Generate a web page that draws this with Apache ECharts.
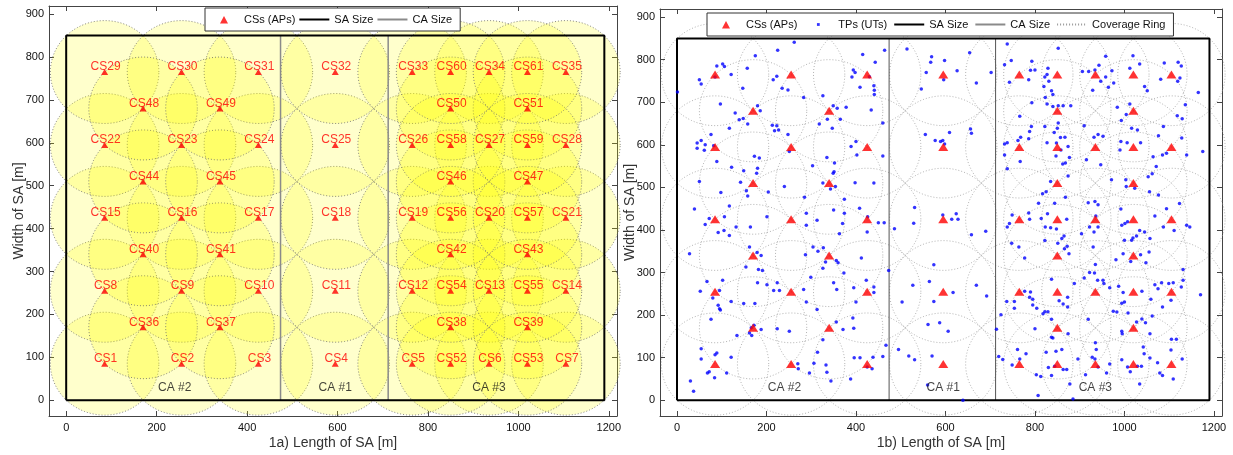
<!DOCTYPE html>
<html>
<head>
<meta charset="utf-8">
<script src="https://cdn.jsdelivr.net/npm/echarts@6/dist/echarts.min.js"></script>
<style>
html, body { margin: 0; padding: 0; background: #fff; }
#chart { width: 1233px; height: 455px; }
</style>
</head>
<body>
<div id="chart"></div>
<script>
// CS (AP) names and positions [m]
const csName = ['CS1','CS2','CS3','CS4','CS5','CS6','CS7','CS8','CS9','CS10','CS11','CS12','CS13','CS14',
  'CS15','CS16','CS17','CS18','CS19','CS20','CS21','CS22','CS23','CS24','CS25','CS26','CS27','CS28',
  'CS29','CS30','CS31','CS32','CS33','CS34','CS35','CS36','CS37','CS38','CS39','CS40','CS41','CS42','CS43',
  'CS44','CS45','CS46','CS47','CS48','CS49','CS50','CS51','CS52','CS53','CS54','CS55','CS56','CS57',
  'CS58','CS59','CS60','CS61']
const csX = [85,255,425,595,765,935,1105, 85,255,425,595,765,935,1105, 85,255,425,595,765,935,1105,
  85,255,425,595,765,935,1105, 85,255,425,595,765,935,1105, 170,340,850,1020, 170,340,850,1020,
  170,340,850,1020, 170,340,850,1020, 850,1020, 850,1020, 850,1020, 850,1020, 850,1020]
const csY = [85,85,85,85,85,85,85, 255,255,255,255,255,255,255, 425,425,425,425,425,425,425,
  595,595,595,595,595,595,595, 765,765,765,765,765,765,765, 170,170,170,170, 340,340,340,340,
  510,510,510,510, 680,680,680,680, 85,85, 255,255, 425,425, 595,595, 765,765]
const coverageRadius = 120

// service area outline and cluster area dividers
const saX = [0, 1190, 1190, 0, 0]
const saY = [0, 0, 850, 850, 0]
const caLineX = [474, 712]
const caLineY = [0, 850]
const caLabel = ['CA #2', 'CA #1', 'CA #3']
const caLabelX = [240, 595, 935]
const caLabelY = [30, 30, 30]

// axis ticks
const xTicks = [0, 200, 400, 600, 800, 1000, 1200]
const yTicks = [0, 100, 200, 300, 400, 500, 600, 700, 800, 900]

const tpPoints = [
  [262,841],[225,822],[175,809],[157,780],[89,785],[102,790],[106,784],[85,759],[50,753],[54,743],[121,765],[223,761],
  [215,753],[235,733],[248,729],[147,733],[1,724],[97,696],[180,692],[186,680],[130,675],[148,662],[139,659],[158,649],
  [117,639],[213,646],[223,645],[218,633],[227,635],[76,624],[248,624],[54,610],[45,604],[63,600],[45,592],[82,598],
  [61,587],[89,561],[251,584],[173,573],[184,569],[122,547],[180,545],[178,533],[149,539],[50,514],[142,512],[98,488],
  [155,492],[158,480],[204,489],[240,502],[117,456],[39,449],
  [464,822],[415,812],[443,794],[394,776],[398,770],[391,759],[430,760],[409,735],[440,739],[441,728],[441,718],[283,711],
  [326,715],[349,692],[358,686],[378,688],[336,660],[365,660],[434,682],[318,649],[347,639],[460,651],[400,608],[389,596],
  [402,576],[460,574],[335,570],[303,551],[352,557],[351,537],[349,533],[326,510],[354,502],[398,511],[440,510],[343,496],
  [285,477],[374,472],[408,451],[350,447],
  [514,825],[569,807],[567,794],[557,770],[546,731],[555,624],[577,610],[589,608],[531,453],
  [654,816],[598,798],[626,774],[702,770],[596,753],[669,745],[609,629],[656,637],[658,627],[594,610],[598,602],
  [738,837],[852,827],[747,798],[732,788],[793,796],[790,775],[800,776],[829,780],[827,765],[822,759],[786,753],[743,747],
  [831,749],[820,737],[837,727],[840,718],[823,711],[793,699],[827,696],[840,690],[852,692],[863,692],[880,692],[766,667],
  [852,651],[792,643],[822,643],[850,639],[788,631],[843,629],[857,617],[768,618],[867,618],[762,610],[738,605],[732,602],
  [786,614],[827,605],[848,604],[874,596],[858,588],[732,576],[767,561],[847,574],[877,570],[868,557],[862,555],[738,544],
  [874,527],[835,514],[825,490],[817,485],[868,477],[808,463],[844,463],
  [1019,809],[958,808],[943,787],[934,776],[906,772],[920,772],[972,774],[958,759],[947,749],[976,745],[964,735],[1012,780],
  [1034,790],[1045,737],[1051,727],[1089,792],[1081,754],[1120,794],[1127,785],[1124,757],[1119,749],[1165,723],[929,728],
  [1012,696],[984,688],[993,657],[1004,671],[1136,694],[1118,668],[1129,661],[1087,643],[1016,639],[1029,635],[910,645],
  [941,624],[952,620],[932,618],[992,608],[1006,605],[1036,605],[1128,616],[1076,621],[990,588],[1085,576],[1094,580],
  [1064,572],[1139,576],[1175,584],[915,565],[947,553],[1071,549],[1053,525],[1062,532],[971,518],[1003,518],[1004,502],
  [1023,498],[1056,490],[1076,482],[934,467],[919,464],[941,459],[992,449],[1094,450],[1123,462],
  [72,427],[63,413],[106,431],[201,431],[92,394],[105,399],[132,407],[164,407],[117,387],[28,344],[162,360],[179,347],
  [188,340],[154,313],[182,307],[191,305],[102,282],[67,279],[180,276],[201,271],[224,276],[216,258],[229,258],[52,256],
  [95,258],[80,240],[121,232],[92,223],[95,215],[97,212],[149,227],[174,227],[76,190],[166,170],[172,176],[162,158],
  [167,152],[188,166],[134,152],[224,168],[251,162],[54,121],[89,111],[85,107],[54,97],[121,101],[72,67],[68,64],
  [84,53],[111,64],[30,45],[37,21],[270,86],[271,74],
  [289,439],[289,411],[313,423],[374,439],[370,415],[426,431],[450,417],[463,417],[425,395],[363,391],[304,360],[315,350],
  [327,358],[287,342],[412,334],[356,328],[360,323],[332,325],[326,310],[373,299],[299,289],[283,260],[350,276],[357,260],
  [395,264],[423,282],[440,266],[440,253],[400,231],[289,231],[313,213],[393,193],[356,184],[371,166],[395,169],[326,142],
  [467,129],[314,113],[396,100],[409,100],[460,103],[438,101],[436,74],[425,78],[306,87],[333,83],[335,66],[296,64],
  [344,45],[388,50],
  [486,403],[529,416],[574,318],[564,279],[527,270],[503,231],[574,232],[561,178],[587,182],[495,119],[518,104],[531,95],
  [570,104],[560,36],[473,305],
  [594,435],[614,425],[624,438],[628,425],[658,389],[690,397],[669,270],[692,245],[617,253],[606,162],[714,167],[639,0],
  [749,435],[786,440],[788,425],[814,427],[828,438],[743,415],[738,407],[823,407],[835,405],[848,402],[871,425],[865,386],
  [860,380],[851,369],[822,375],[872,362],[866,356],[764,360],[748,369],[777,334],[876,344],[888,274],[837,284],[777,256],
  [790,254],[788,242],[795,237],[737,232],[754,232],[795,224],[804,216],[754,216],[854,234],[873,242],[863,226],[873,219],
  [822,208],[829,208],[818,203],[724,201],[837,190],[800,168],[837,148],[840,146],[874,156],[825,113],[847,115],[860,119],
  [761,119],[780,109],[766,97],[719,103],[728,96],[749,83],[803,60],[813,56],[837,58],[830,77],[844,80],[863,72],
  [871,72],[878,38],[807,11],[885,3],[896,97],
  [904,391],[922,407],[932,395],[941,407],[936,433],[1001,415],[994,411],[1007,419],[1034,399],[1045,395],[1027,386],[1019,381],
  [1016,376],[1057,380],[1000,376],[1068,433],[1087,407],[1111,399],[1139,411],[1146,407],[930,360],[997,344],[981,330],[1014,326],
  [1036,342],[1055,348],[1048,323],[935,319],[1131,307],[922,300],[933,299],[910,287],[940,282],[952,282],[954,274],[967,264],
  [987,268],[997,253],[1039,256],[1068,271],[1075,262],[1083,276],[1099,274],[1109,276],[1131,282],[1127,266],[1170,248],[1104,235],
  [1059,237],[994,228],[1000,231],[1085,219],[975,209],[983,207],[1008,205],[1062,198],[919,190],[1039,191],[1027,184],[1047,182],
  [994,162],[995,156],[1057,156],[1105,143],[1116,143],[935,135],[937,119],[1042,125],[1044,109],[1057,99],[1104,118],[928,101],
  [934,97],[994,95],[967,85],[941,78],[913,60],[1007,78],[1013,67],[1029,80],[1038,80],[1074,88],[1079,64],[1085,58],
  [1129,97],[1109,50],[960,64],[1034,38]
]

const FONT = 'Liberation Sans'
const csData = csX.map((x, i) => ({ name: csName[i], value: [x, csY[i]] }))
const caLabelData = caLabelX.map((x, i) => ({ name: caLabel[i], value: [x, caLabelY[i]] }))

// 覆盖圆：在数据坐标里取点，再交给坐标系换算
let ringRender = (fill, stroke) => (params, api) => {
  let cx = api.value(0), cy = api.value(1)
  let pts = []
  for (let k = 0; k < 90; k++) {
    let a = k / 90 * Math.PI * 2
    pts.push(api.coord([cx + coverageRadius * Math.cos(a), cy + coverageRadius * Math.sin(a)]))
  }
  return {
    type: 'polygon',
    shape: { points: pts },
    style: { fill: fill, stroke: stroke, lineWidth: 0.8, lineDash: [1, 2] }
  }
}

const triIcon = 'path://M0,0M30,10M15,1.5L19,9L11,9Z'
const dotIcon = 'path://M0,0M30,10M13.6,3.6h2.8v2.8h-2.8z'
const AX = '#444'
const plainNum = v => String(v)

let xAxisPair = (gi, title) => [
  {
    type: 'value', gridIndex: gi, position: 'bottom', min: -38, max: 1218,
    name: title, nameLocation: 'middle', nameGap: 20, nameMoveOverlap: false,
    nameTextStyle: { fontFamily: FONT, fontSize: 14, color: '#333' },
    axisLine: { onZero: false, lineStyle: { color: AX, width: 1 } },
    axisTick: { inside: true, length: 5, customValues: xTicks, lineStyle: { color: AX } },
    axisLabel: { customValues: xTicks, formatter: plainNum, fontFamily: FONT, fontSize: 11, color: '#111', margin: 6 },
    splitLine: { show: false }
  },
  {
    type: 'value', gridIndex: gi, position: 'top', min: -38, max: 1218,
    axisLine: { onZero: false, lineStyle: { color: AX, width: 1 } },
    axisTick: { inside: true, length: 5, customValues: xTicks, lineStyle: { color: AX } },
    axisLabel: { show: false },
    splitLine: { show: false }
  }
]

let yAxisPair = (gi, title) => [
  {
    type: 'value', gridIndex: gi, position: 'left', min: -37, max: 919,
    name: title, nameLocation: 'middle', nameGap: 23, nameMoveOverlap: false,
    nameTextStyle: { fontFamily: FONT, fontSize: 14, color: '#333' },
    axisLine: { onZero: false, lineStyle: { color: AX, width: 1 } },
    axisTick: { inside: true, length: 5, customValues: yTicks, lineStyle: { color: AX } },
    axisLabel: { customValues: yTicks, formatter: plainNum, fontFamily: FONT, fontSize: 11, color: '#111', margin: 5 },
    splitLine: { show: false }
  },
  {
    type: 'value', gridIndex: gi, position: 'right', min: -37, max: 919,
    axisLine: { onZero: false, lineStyle: { color: AX, width: 1 } },
    axisTick: { inside: true, length: 5, customValues: yTicks, lineStyle: { color: AX } },
    axisLabel: { show: false },
    splitLine: { show: false }
  }
]

// 一个面板的公共系列：SA 边框、CA 分隔线、CA 标注
let frameSeries = (xi, yi, caColor, caWidth) => [
  {
    name: 'SA Size', type: 'line', xAxisIndex: xi, yAxisIndex: yi, z: 5,
    data: saX.map((x, i) => [x, saY[i]]), symbol: 'none', silent: true,
    lineStyle: { color: '#000', width: 2 }
  },
  ...caLineX.map(x => ({
    name: 'CA Size', type: 'line', xAxisIndex: xi, yAxisIndex: yi, z: 4,
    data: caLineY.map(y => [x, y]), symbol: 'none', silent: true,
    lineStyle: { color: caColor, width: caWidth }
  })),
  {
    name: 'caText', type: 'scatter', xAxisIndex: xi, yAxisIndex: yi, z: 6,
    data: caLabelData, symbolSize: 0, silent: true,
    label: { show: true, position: 'inside', formatter: '{b}', fontFamily: FONT, fontSize: 12, color: '#111' }
  }
]

let legendBase = {
  orient: 'horizontal', itemWidth: 30, itemHeight: 10, itemGap: 3,
  backgroundColor: '#fff', borderColor: '#333', borderWidth: 1, borderRadius: 0,
  padding: [6, 8, 6, 4], selectedMode: false,
  textStyle: { fontFamily: FONT, fontSize: 11, color: '#111' }
}
// 线型图例只保留线，不画中间的符号
let lineItem = name => ({ name: name, itemStyle: { opacity: 0 } })

const option = {
  animation: false,
  backgroundColor: '#fff',
  grid: [
    { left: 49, top: 6, width: 568, height: 410, outerBoundsMode: 'none' },
    { left: 660, top: 9, width: 562, height: 407, outerBoundsMode: 'none' }
  ],
  legend: [
    Object.assign({}, legendBase, {
      left: 205, top: 8,
      data: [{ name: 'CSs (APs)', icon: triIcon }, lineItem('SA Size'), lineItem('CA Size')]
    }),
    Object.assign({}, legendBase, {
      left: 707, top: 13, itemGap: 6,
      data: [{ name: 'CSs (APs)', icon: triIcon }, { name: 'TPs (UTs)', icon: dotIcon },
        lineItem('SA Size'), lineItem('CA Size'), lineItem('Coverage Ring')]
    })
  ],
  xAxis: [...xAxisPair(0, '1a) Length of SA [m]'), ...xAxisPair(1, '1b) Length of SA [m]')],
  yAxis: [...yAxisPair(0, 'Width of SA [m]'), ...yAxisPair(1, 'Width of SA [m]')],
  series: [
    // 1a
    {
      name: 'rings1a', type: 'custom', xAxisIndex: 0, yAxisIndex: 0, z: 1, silent: true,
      data: csData.map(d => d.value), renderItem: ringRender('rgba(255,255,0,0.2)', '#6a6a6a')
    },
    ...frameSeries(0, 0, '#8a8a8a', 1.5),
    {
      name: 'CSs (APs)', type: 'scatter', xAxisIndex: 0, yAxisIndex: 0, z: 8, silent: true,
      data: csData, symbol: 'triangle', symbolSize: [7, 6],
      itemStyle: { color: '#ff0000' },
      label: {
        show: true, position: 'inside', offset: [1, -5], formatter: '{b}',
        fontFamily: FONT, fontSize: 12, color: '#ff0000'
      }
    },
    // 1b
    {
      name: 'rings1b', type: 'custom', xAxisIndex: 2, yAxisIndex: 2, z: 1, silent: true,
      data: csData.map(d => d.value), renderItem: ringRender('none', '#a0a0a0')
    },
    ...frameSeries(2, 2, '#555', 1),
    {
      name: 'Coverage Ring', type: 'line', xAxisIndex: 2, yAxisIndex: 2, data: [], symbol: 'none',
      lineStyle: { color: '#9a9a9a', width: 1.2, type: [1, 2] }
    },
    {
      name: 'TPs (UTs)', type: 'scatter', xAxisIndex: 2, yAxisIndex: 2, z: 6, silent: true,
      data: tpPoints, symbol: 'circle', symbolSize: 3.5,
      itemStyle: { color: '#0000ff' }
    },
    {
      name: 'CSs (APs)', type: 'scatter', xAxisIndex: 2, yAxisIndex: 2, z: 8, silent: true,
      data: csData, symbol: 'triangle', symbolSize: [10, 8],
      itemStyle: { color: '#ff0000' }
    }
  ]
}

let chart = echarts.init(document.getElementById('chart'))
chart.setOption(option)
</script>
</body>
</html>
